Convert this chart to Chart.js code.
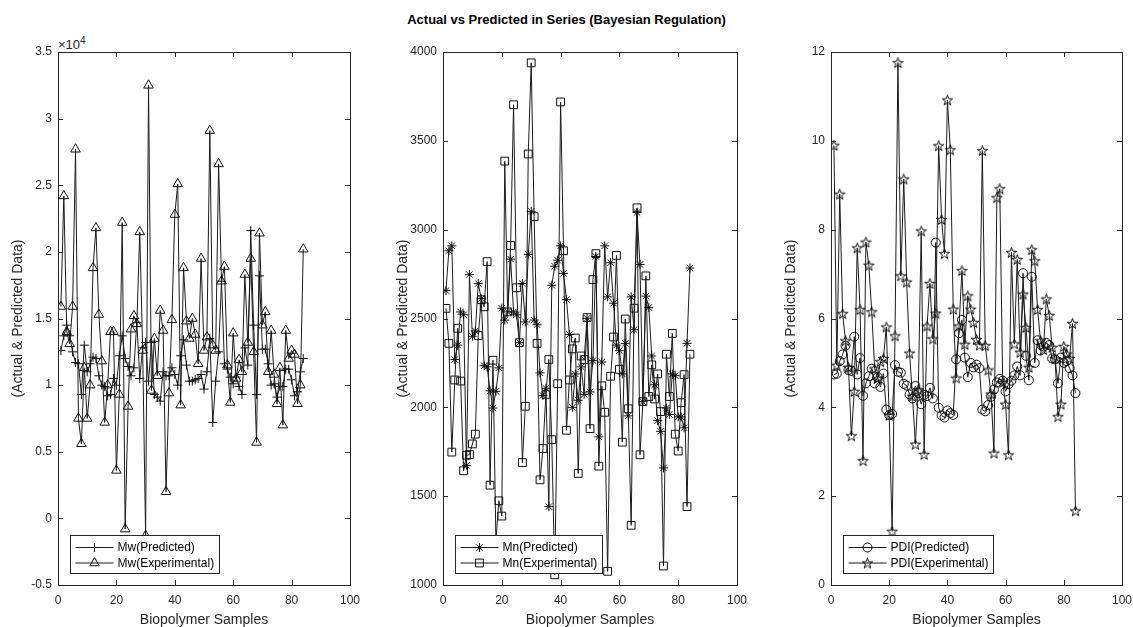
<!DOCTYPE html>
<html>
<head>
<meta charset="utf-8">
<script src="https://cdn.jsdelivr.net/npm/chart.js@4.4.1/dist/chart.umd.min.js"></script>
<style>
  body { margin: 0; background: #fff; width: 1133px; height: 627px; overflow: hidden; position: relative;
         font-family: Arial, 'Liberation Sans', Helvetica, sans-serif; }
  .panel { position: absolute; top: 0; height: 627px; }
  #figTitle { position: absolute; top: 12px; left: 0; width: 1133px; text-align: center;
              font-weight: bold; font-size: 13px; line-height: 15px; color: #000; }
  #expo { position: absolute; left: 58px; top: 35px; font-size: 13px; color: #262626; }
  #expo sup { font-size: 10px; }
</style>
</head>
<body>
<div id="figTitle">Actual vs Predicted in Series (Bayesian Regulation)</div>
<div id="expo">×10<sup>4</sup></div>
<div class="panel" id="p1"><canvas id="c1"></canvas></div>
<div class="panel" id="p2"><canvas id="c2"></canvas></div>
<div class="panel" id="p3"><canvas id="c3"></canvas></div>

<script>
// sample numbers on the x axis
const samples = Array.from({ length: 84 }, (_, i) => i + 1);
const xTicks = [0, 20, 40, 60, 80, 100];

// Mw (real units, axis shows x10^4)
const mwPredicted = [
  12600, 13700, 14500, 13700, 12500, 11700, 11600, 9300, 13000, 11000,
  11600, 12100, 12000, 10700, 10000, 9900, 9200, 9300, 10500, 10000,
  12200, 13700, 12000, 11400, 10700, 11300, 14700, 10500, 12800, 13200,
  10300, 13200, 9300, 9100, 8800, 11000, 10700, 10700, 11300, 10800,
  10000, 12200, 13400, 11500, 10300, 10300, 10400, 10500, 10800, 9700,
  11000, 13500, 7200, 10300, 12500, 17800, 11600, 11200, 10600, 10100,
  10600, 9900, 9300, 12800, 11500, 21600, 14500, 9300, 18200, 12700,
  12700, 11600, 10000, 10100, 9100, 9900, 9900, 11200, 11200, 10400,
  9200, 9500, 11000, 12000
];
const mwExperimental = [
  15900, 24200, 14000, 13100, 15900, 27700, 7500, 5600, 11300, 7500,
  10000, 18800, 21800, 15300, 11800, 7200, 10000, 14000, 14000, 3600,
  9300, 22200, -800, 8400, 14200, 15200, 14600, 21500, 12600, -1300,
  32500, 9600, 13500, 10700, 15600, 14100, 2000, 9400, 14900, 22800,
  25100, 8500, 18800, 14800, 13500, 15000, 13800, 11600, 19500, 12600,
  13600, 29100, 13000, 12600, 26600, 17800, 18900, 11500, 8700, 13900,
  10500, 11900, 11000, 18300, 13200, 19500, 12500, 5700, 21400, 14500,
  15500, 11000, 14100, 10800, 8600, 11300, 7000, 14100, 12000, 12600,
  12300, 8600, 10000, 20200
];

// Mn
const mnPredicted = [
  2657, 2881, 2909, 2269, 2350, 2537, 2521, 1673, 2747, 2400,
  2430, 2697, 2612, 2234, 2228, 2093, 1996, 2090, 2222, 2558,
  2491, 2537, 2834, 2537, 2521, 2364, 2697, 2481, 2861, 3103,
  2491, 2465, 2194, 2067, 2107, 1441, 2687, 2794, 2828, 2909,
  2754, 2606, 2410, 2000, 2188, 2040, 2228, 2073, 2501, 2087,
  2263, 2849, 1834, 2255, 2909, 2622, 2814, 2586, 2350, 2319,
  2188, 2360, 1952, 2622, 2437, 3097, 2804, 2032, 2626, 2562,
  2289, 2127, 1925, 1865, 1659, 1996, 1960, 2188, 2178, 1946,
  1946, 1885, 2360, 2784
];
const mnExperimental = [
  2557, 2360, 1748, 2154, 2445, 2148, 1643, 1730, 1734, 1794,
  1849, 2404, 2606, 2566, 2820, 1562, 2265, 1250, 1474, 1388,
  3386, 2537, 2911, 3703, 2673, 2364, 1689, 2006, 3426, 3939,
  3073, 2360, 1592, 1768, 2073, 2269, 1818, 1057, 2133, 3719,
  2881, 1871, 2154, 2329, 2390, 1628, 2289, 2269, 2505, 1880,
  2719, 2865, 1669, 2121, 1972, 1077, 2175, 2396, 2855, 2214,
  1804, 2497, 1992, 1336, 2558, 3123, 1733, 2032, 2740, 2061,
  2239, 2047, 2188, 1976, 1107, 2299, 2061, 2416, 1849, 1754,
  2026, 2184, 1441, 2299
];

// PDI
const pdiPredicted = [
  4.74, 4.76, 5.04, 5.19, 5.39, 4.84, 4.82, 5.59, 4.74, 5.11,
  4.26, 4.54, 4.70, 4.87, 4.54, 4.68, 4.46, 4.76, 3.95, 3.83,
  3.85, 4.95, 4.80, 4.78, 4.53, 4.49, 4.29, 4.20, 4.48, 4.32,
  4.07, 4.28, 4.25, 4.44, 4.20, 7.71, 3.99, 3.82, 3.77, 3.93,
  3.87, 3.83, 5.08, 5.67, 5.97, 5.12, 4.68, 5.00, 4.90, 4.96,
  4.88, 3.95, 3.91, 4.05, 4.24, 4.40, 4.56, 4.64, 4.60, 4.36,
  4.52, 4.60, 4.72, 4.92, 4.72, 7.02, 5.16, 4.61, 6.94, 5.00,
  5.51, 5.28, 5.37, 5.45, 5.40, 5.10, 5.08, 4.54, 5.12, 5.00,
  5.04, 4.88, 4.72, 4.32
];
const pdiExperimental = [
  9.90, 4.95, 8.80, 6.11, 5.50, 4.90, 3.36, 4.36, 7.59, 6.20,
  2.80, 7.72, 7.20, 6.15, 4.87, 4.65, 5.03, 5.10, 5.81, 3.82,
  1.21, 5.61, 11.76, 6.96, 9.14, 6.82, 5.22, 4.25, 3.17, 4.40,
  7.97, 2.94, 5.83, 6.79, 5.54, 6.12, 9.89, 8.23, 7.46, 10.92,
  9.80, 6.21, 4.66, 5.83, 7.08, 5.42, 6.51, 6.21, 5.91, 5.53,
  5.40, 9.78, 5.39, 4.84, 4.30, 2.97, 8.72, 8.92, 4.56, 4.07,
  2.93, 7.49, 5.43, 7.33, 5.24, 6.55, 5.80, 4.90, 7.55, 7.30,
  6.20, 5.50, 5.30, 6.44, 6.07, 5.35, 5.10, 3.79, 4.07, 5.37,
  5.20, 5.10, 5.89, 1.67
];

const FONT = "Arial, 'Liberation Sans', Helvetica, sans-serif";
const AXIS_COLOR = '#262626';
const LINE_COLOR = '#1c1c1c';

// MATLAB style five pointed star marker
function makePentagram() {
  const c = document.createElement('canvas');
  c.width = 13; c.height = 13;
  const g = c.getContext('2d');
  g.strokeStyle = '#111';
  g.lineWidth = 1;
  g.beginPath();
  for (let i = 0; i < 10; i++) {
    const r = i % 2 ? 2.2 : 5.5;
    const a = -Math.PI / 2 + i * Math.PI / 5;
    const px = 6.5 + r * Math.cos(a), py = 7 + r * Math.sin(a);
    if (i === 0) g.moveTo(px, py); else g.lineTo(px, py);
  }
  g.closePath();
  g.stroke();
  return c;
}
const pentagram = makePentagram();

function drawMarker(ctx, style, x, y, r) {
  if (style === pentagram) {
    ctx.drawImage(pentagram, x - 6.5, y - 6.5);
    return;
  }
  ctx.beginPath();
  if (style === 'cross' || style === 'star') {
    ctx.moveTo(x - r, y); ctx.lineTo(x + r, y);
    ctx.moveTo(x, y - r); ctx.lineTo(x, y + r);
    if (style === 'star') {
      const d = r * Math.SQRT1_2;
      ctx.moveTo(x - d, y - d); ctx.lineTo(x + d, y + d);
      ctx.moveTo(x - d, y + d); ctx.lineTo(x + d, y - d);
    }
  } else if (style === 'triangle') {
    for (let i = 0; i < 3; i++) {
      const a = i * 2 * Math.PI / 3;
      const px = x + Math.sin(a) * r, py = y - Math.cos(a) * r;
      if (i === 0) ctx.moveTo(px, py); else ctx.lineTo(px, py);
    }
    ctx.closePath();
  } else if (style === 'rect') {
    const s = r * Math.SQRT1_2;
    ctx.rect(x - s, y - s, 2 * s, 2 * s);
  } else if (style === 'circle') {
    ctx.arc(x, y, r, 0, Math.PI * 2);
  }
  ctx.stroke();
}

// box, inward ticks and the legend in the lower left corner
const matlabAxes = {
  id: 'matlabAxes',
  afterDraw(chart, args, opts) {
    const { ctx, chartArea: a, scales } = chart;
    ctx.save();
    ctx.strokeStyle = AXIS_COLOR;
    ctx.lineWidth = 1;
    ctx.strokeRect(Math.round(a.left) + 0.5, Math.round(a.top) + 0.5,
                   Math.round(a.right - a.left), Math.round(a.bottom - a.top));
    ctx.beginPath();
    scales.x.ticks.forEach(t => {
      const px = Math.round(scales.x.getPixelForValue(t.value)) + 0.5;
      ctx.moveTo(px, a.bottom); ctx.lineTo(px, a.bottom - 5);
      ctx.moveTo(px, a.top); ctx.lineTo(px, a.top + 5);
    });
    scales.y.ticks.forEach(t => {
      const py = Math.round(scales.y.getPixelForValue(t.value)) + 0.5;
      ctx.moveTo(a.left, py); ctx.lineTo(a.left + 5, py);
      ctx.moveTo(a.right, py); ctx.lineTo(a.right - 5, py);
    });
    ctx.stroke();

    // legend
    ctx.font = '12px ' + FONT;
    const textW = Math.max(...opts.items.map(it => ctx.measureText(it.label).width));
    const lx = Math.round(a.left + 12) + 0.5;
    const ly = Math.round(a.bottom - 50) + 0.5;
    const lw = Math.round(47 + textW + 5);
    const lh = 38;
    ctx.fillStyle = '#fff';
    ctx.fillRect(lx, ly, lw, lh);
    ctx.strokeStyle = AXIS_COLOR;
    ctx.strokeRect(lx, ly, lw, lh);
    opts.items.forEach((it, i) => {
      const y = ly + 12 + i * 15.5;
      ctx.strokeStyle = LINE_COLOR;
      ctx.beginPath();
      ctx.moveTo(lx + 5, y); ctx.lineTo(lx + 43, y);
      ctx.stroke();
      ctx.strokeStyle = '#111';
      drawMarker(ctx, it.style, lx + 24, y, it.radius);
      ctx.fillStyle = '#000';
      ctx.textBaseline = 'middle';
      ctx.fillText(it.label, lx + 47, y + 0.5);
    });
    ctx.restore();
  }
};

function series(label, values, style, radius) {
  return {
    label,
    data: samples.map((s, i) => ({ x: s, y: values[i] })),
    borderColor: LINE_COLOR,
    borderWidth: 1,
    pointStyle: style,
    pointRadius: radius,
    pointBorderColor: '#111',
    pointBackgroundColor: 'rgba(0,0,0,0)',
    pointBorderWidth: 1,
    tension: 0,
    fill: false
  };
}

function makePanel(canvasId, panelId, plotLeft, plotWidth, datasets, yCfg, legendItems) {
  const el = document.getElementById(panelId);
  el.style.left = (plotLeft - 50) + 'px';
  el.style.width = (plotWidth + 50 + 10) + 'px';

  return new Chart(document.getElementById(canvasId), {
    type: 'line',
    data: { datasets },
    plugins: [matlabAxes],
    options: {
      responsive: true,
      maintainAspectRatio: false,
      animation: false,
      events: [],
      layout: { padding: { left: 0, right: 10, top: 52, bottom: 0 } },
      plugins: {
        legend: { display: false },
        tooltip: { enabled: false },
        matlabAxes: { items: legendItems }
      },
      scales: {
        x: {
          type: 'linear',
          min: 0,
          max: 100,
          afterBuildTicks: s => { s.ticks = xTicks.map(v => ({ value: v })); },
          grid: { display: false, drawTicks: false },
          border: { display: false },
          ticks: { color: AXIS_COLOR, font: { size: 12, family: FONT }, padding: 8, maxRotation: 0, autoSkip: false },
          title: { display: true, text: 'Biopolymer Samples', color: AXIS_COLOR,
                   font: { size: 14, family: FONT }, padding: { top: -2, bottom: -2 } },
          afterFit: s => { s.height = 42; s.paddingLeft = 0; s.paddingRight = 0; }
        },
        y: {
          type: 'linear',
          min: yCfg.min,
          max: yCfg.max,
          grid: { display: false, drawTicks: false },
          border: { display: false },
          ticks: { stepSize: yCfg.step, color: AXIS_COLOR, font: { size: 12, family: FONT }, padding: 6,
                   callback: yCfg.format },
          title: { display: true, text: '(Actual & Predicted Data)', color: AXIS_COLOR,
                   font: { size: 14, family: FONT }, padding: { top: 2, bottom: 0 } },
          afterFit: s => { s.width = 50; s.paddingTop = 0; s.paddingBottom = 0; }
        }
      }
    }
  });
}

makePanel('c1', 'p1', 58, 292,
  [series('Mw(Predicted)', mwPredicted, 'cross', 4.5),
   series('Mw(Experimental)', mwExperimental, 'triangle', 5.5)],
  { min: -5000, max: 35000, step: 5000, format: v => String(Math.round(v / 1000) / 10) },
  [{ label: 'Mw(Predicted)', style: 'cross', radius: 4.5 },
   { label: 'Mw(Experimental)', style: 'triangle', radius: 5.5 }]);

makePanel('c2', 'p2', 443, 294,
  [series('Mn(Predicted)', mnPredicted, 'star', 4.5),
   series('Mn(Experimental)', mnExperimental, 'rect', 5.5)],
  { min: 1000, max: 4000, step: 500, format: v => String(v) },
  [{ label: 'Mn(Predicted)', style: 'star', radius: 4.5 },
   { label: 'Mn(Experimental)', style: 'rect', radius: 5.5 }]);

makePanel('c3', 'p3', 831, 291,
  [series('PDI(Predicted)', pdiPredicted, 'circle', 4.5),
   series('PDI(Experimental)', pdiExperimental, pentagram, 5)],
  { min: 0, max: 12, step: 2, format: v => String(v) },
  [{ label: 'PDI(Predicted)', style: 'circle', radius: 4.5 },
   { label: 'PDI(Experimental)', style: pentagram, radius: 5 }]);
</script>
</body>
</html>
